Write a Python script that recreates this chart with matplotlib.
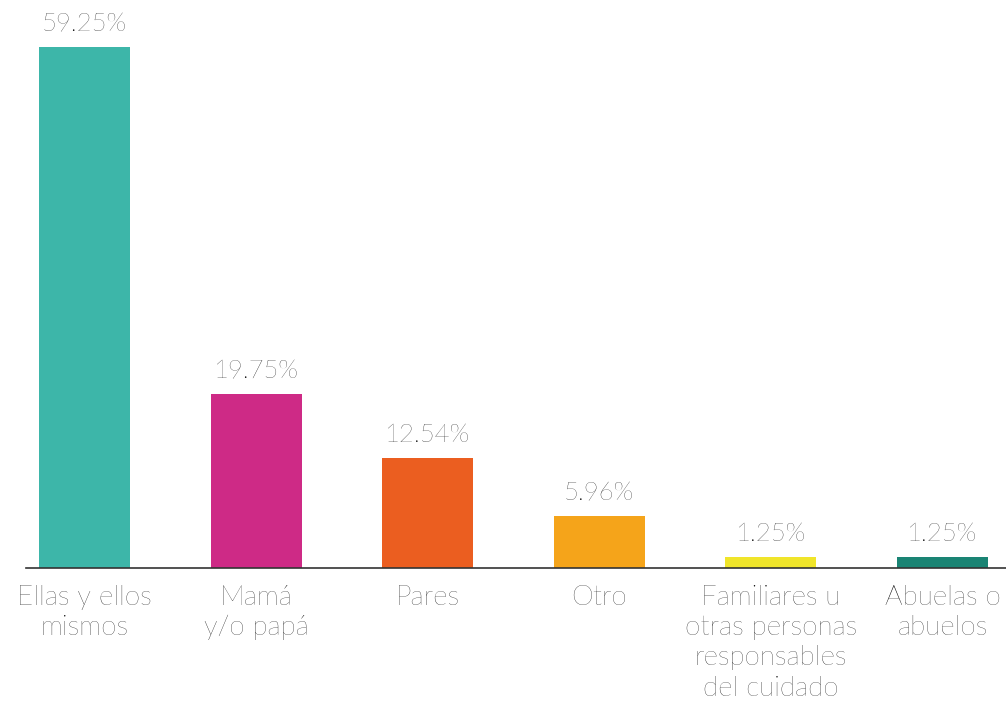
import matplotlib.pyplot as plt

categories = ["Ellas y ellos\nmismos", "Mamá\ny/o papá", "Pares", "Otro",
              "Familiares u\notras personas\nresponsables\ndel cuidado",
              "Abuelas o\nabuelos"]
values = [59.25, 19.75, 12.54, 5.96, 1.25, 1.25]
labels = ["59.25%", "19.75%", "12.54%", "5.96%", "1.25%", "1.25%"]
colors = ["#3DB6A9", "#CE2A86", "#EB5E20", "#F5A41A", "#F0E52A", "#1A8474"]

plt.rcParams['font.family'] = ['Lato', 'DejaVu Sans']

fig = plt.figure(figsize=(10.06, 7.06), dpi=100)
ax = fig.add_axes([26 / 1006, (706 - 568) / 706, 980 / 1006, 521 / 706])

x = list(range(len(categories)))
ax.bar(x, values, width=0.53, color=colors)

# value labels above bars
for xi, v, lab in zip(x, values, labels):
    ax.text(xi, v + 1.2, lab, ha="center", va="bottom", fontsize=18.5,
            fontweight="light", color="#000000", clip_on=False)

ax.set_xlim(-0.341, 5.37)
ax.set_ylim(0, 59.25)
ax.set_xticks(x)
ax.set_xticklabels(categories, fontsize=20, fontweight="light",
                   color="#000000", linespacing=1.27)
ax.tick_params(axis="x", length=0, pad=12)
ax.set_yticks([])
for side in ["top", "right", "left"]:
    ax.spines[side].set_visible(False)
ax.spines["bottom"].set_color("#333333")
ax.spines["bottom"].set_linewidth(1.2)

fig.savefig("out.png", dpi=100)
